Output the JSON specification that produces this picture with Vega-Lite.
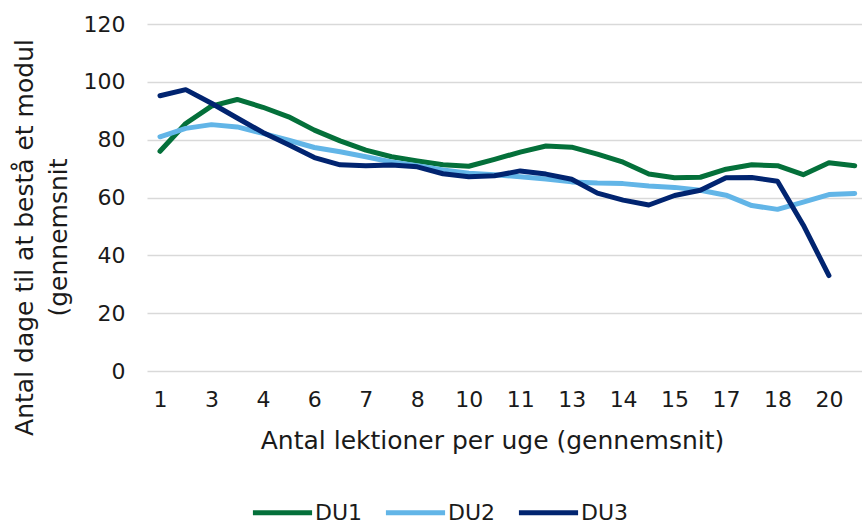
{
  "$schema": "https://vega.github.io/schema/vega-lite/v6.json",
  "autosize": "none",
  "padding": {"left": 147, "top": 24, "right": 0, "bottom": 154},
  "width": 715,
  "height": 347,
  "background": "white",
  "data": {
    "values": [
      {"lektioner": 1, "DU1": 76.0, "DU2": 81.0, "DU3": 95.2},
      {"lektioner": 2, "DU1": 85.6, "DU2": 83.9, "DU3": 97.3},
      {"lektioner": 3, "DU1": 91.6, "DU2": 85.2, "DU3": 92.6},
      {"lektioner": 3.5, "DU1": 93.9, "DU2": 84.4, "DU3": 87.5},
      {"lektioner": 4, "DU1": 91.2, "DU2": 82.2, "DU3": 82.5},
      {"lektioner": 5, "DU1": 87.9, "DU2": 79.8, "DU3": 78.2},
      {"lektioner": 6, "DU1": 83.3, "DU2": 77.3, "DU3": 73.8},
      {"lektioner": 6.5, "DU1": 79.6, "DU2": 75.8, "DU3": 71.3},
      {"lektioner": 7, "DU1": 76.4, "DU2": 74.1, "DU3": 71.0},
      {"lektioner": 7.5, "DU1": 74.1, "DU2": 72.3, "DU3": 71.2},
      {"lektioner": 8, "DU1": 72.6, "DU2": 71.0, "DU3": 70.6},
      {"lektioner": 9, "DU1": 71.3, "DU2": 69.5, "DU3": 68.2},
      {"lektioner": 10, "DU1": 70.8, "DU2": 68.4, "DU3": 67.2},
      {"lektioner": 10.5, "DU1": 73.2, "DU2": 67.9, "DU3": 67.5},
      {"lektioner": 11, "DU1": 75.7, "DU2": 67.2, "DU3": 69.2},
      {"lektioner": 12, "DU1": 77.8, "DU2": 66.4, "DU3": 68.1},
      {"lektioner": 13, "DU1": 77.4, "DU2": 65.4, "DU3": 66.3},
      {"lektioner": 13.5, "DU1": 75.0, "DU2": 65.0, "DU3": 61.5},
      {"lektioner": 14, "DU1": 72.2, "DU2": 64.8, "DU3": 59.1},
      {"lektioner": 14.5, "DU1": 68.1, "DU2": 64.0, "DU3": 57.4},
      {"lektioner": 15, "DU1": 66.8, "DU2": 63.5, "DU3": 60.7},
      {"lektioner": 16, "DU1": 67.0, "DU2": 62.5, "DU3": 62.5},
      {"lektioner": 17, "DU1": 69.8, "DU2": 60.8, "DU3": 66.8},
      {"lektioner": 17.5, "DU1": 71.3, "DU2": 57.2, "DU3": 66.9},
      {"lektioner": 18, "DU1": 71.0, "DU2": 55.9, "DU3": 65.6},
      {"lektioner": 19, "DU1": 67.9, "DU2": 58.4, "DU3": 50.5},
      {"lektioner": 20, "DU1": 72.0, "DU2": 61.0, "DU3": 33.0},
      {"lektioner": 21, "DU1": 71.0, "DU2": 61.4, "DU3": null}
    ]
  },
  "transform": [
    {"fold": ["DU1", "DU2", "DU3"], "as": ["serie", "dage"]}
  ],
  "mark": {"type": "line", "strokeWidth": 5, "strokeCap": "round", "strokeJoin": "round"},
  "encoding": {
    "x": {
      "field": "lektioner",
      "type": "ordinal",
      "scale": {"padding": 0.3945, "align": 0.64},
      "axis": {
        "title": "Antal lektioner per uge (gennemsnit)",
        "values": [1, 3, 4, 6, 7, 8, 10, 11, 13, 14, 15, 17, 18, 20],
        "labelAngle": 0,
        "ticks": false,
        "domain": false,
        "grid": false,
        "labelPadding": 18,
        "titlePadding": 18,
        "titleX": 345
      }
    },
    "y": {
      "field": "dage",
      "type": "quantitative",
      "scale": {"domain": [0, 120], "nice": false, "zero": true},
      "axis": {
        "title": ["Antal dage til at bestå et modul", "(gennemsnit"],
        "values": [0, 20, 40, 60, 80, 100, 120],
        "ticks": false,
        "domain": false,
        "grid": true,
        "gridColor": "#d9d9d9",
        "gridWidth": 1.5,
        "labelPadding": 22,
        "titlePadding": 12,
        "titleY": 213,
        "titleFontSize": 25,
        "titleLineHeight": 34
      }
    },
    "color": {
      "field": "serie",
      "type": "nominal",
      "scale": {"domain": ["DU1", "DU2", "DU3"], "range": ["#04703a", "#62b5e7", "#012470"]},
      "legend": {
        "title": null,
        "orient": "none",
        "direction": "horizontal",
        "legendX": 103,
        "legendY": 456,
        "symbolType": "stroke",
        "symbolSize": 3500,
        "symbolStrokeWidth": 5,
        "labelOffset": 0,
        "columnPadding": 12
      }
    }
  },
  "config": {
    "view": {"stroke": null},
    "font": "DejaVu Sans",
    "axis": {
      "labelFont": "DejaVu Sans",
      "titleFont": "DejaVu Sans",
      "labelFontSize": 22,
      "titleFontSize": 25,
      "labelColor": "#1a1a1a",
      "titleColor": "#1a1a1a",
      "titleFontWeight": "normal"
    },
    "legend": {
      "labelFont": "DejaVu Sans",
      "labelFontSize": 22,
      "labelColor": "#1a1a1a"
    }
  }
}
